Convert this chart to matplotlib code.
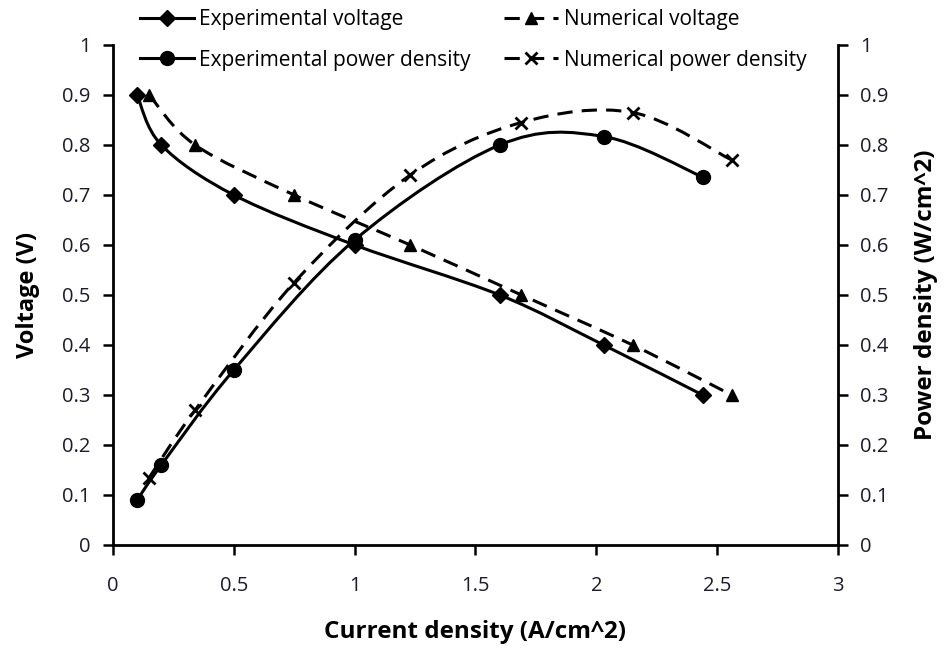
import numpy as np
import matplotlib
matplotlib.use('Agg')
import matplotlib.pyplot as plt
from matplotlib.path import Path
from matplotlib.patches import PathPatch
from matplotlib.lines import Line2D

plt.rcParams['font.family'] = ['Open Sans', 'DejaVu Sans']

# data
exp_current = [0.1, 0.2, 0.5, 1.0, 1.6, 2.03, 2.44]
exp_voltage = [0.9, 0.8, 0.7, 0.6, 0.5, 0.4, 0.3]
exp_power = [0.09, 0.16, 0.35, 0.61, 0.80, 0.817, 0.736]

num_current = [0.15, 0.34, 0.75, 1.23, 1.69, 2.15, 2.56]
num_voltage = [0.9, 0.8, 0.7, 0.6, 0.5, 0.4, 0.3]
num_power = [0.135, 0.27, 0.525, 0.74, 0.845, 0.865, 0.77]

x_ticks = [0, 0.5, 1, 1.5, 2, 2.5, 3]
x_tick_labels = ['0', '0.5', '1', '1.5', '2', '2.5', '3']
y_ticks = [0, 0.1, 0.2, 0.3, 0.4, 0.5, 0.6, 0.7, 0.8, 0.9, 1]
y_tick_labels = ['0', '0.1', '0.2', '0.3', '0.4', '0.5', '0.6', '0.7', '0.8', '0.9', '1']


def smooth_path(xs, ys):
    # excel style smoothed line: bezier segments with catmull-rom control points
    p = np.column_stack([xs, ys]).astype(float)
    n = len(p)
    verts = [p[0]]
    codes = [Path.MOVETO]
    for i in range(n - 1):
        p0 = p[i - 1] if i > 0 else p[i]
        p3 = p[i + 2] if i + 2 < n else p[i + 1]
        c1 = p[i] + (p[i + 1] - p0) / 6.0
        c2 = p[i + 1] - (p3 - p[i]) / 6.0
        verts += [c1, c2, p[i + 1]]
        codes += [Path.CURVE4] * 3
    return Path(verts, codes)


def draw_series(ax, xs, ys, ls, marker, ms):
    ax.add_patch(PathPatch(smooth_path(xs, ys), fill=False, lw=2.2,
                           ls=ls, ec='black', capstyle='butt'))
    ax.plot(xs, ys, ls='none', marker=marker, ms=ms, color='black',
            mew=2 if marker == 'x' else 1)


dash = (0, (5, 3))
fig = plt.figure(figsize=(9.45, 6.49), dpi=100)
ax = fig.add_axes([113 / 945, 1 - 545 / 649, 725 / 945, 500 / 649])
ax2 = ax.twinx()

draw_series(ax, exp_current, exp_voltage, '-', 'D', 8.5)
draw_series(ax, num_current, num_voltage, dash, '^', 9)
draw_series(ax2, exp_current, exp_power, '-', 'o', 10)
draw_series(ax2, num_current, num_power, dash, 'x', 9)

ax.set_xlim(0, 3)
ax.set_ylim(0, 1)
ax2.set_ylim(0, 1)
ax.set_xticks(x_ticks)
ax.set_xticklabels(x_tick_labels)
ax.set_yticks(y_ticks)
ax.set_yticklabels(y_tick_labels)
ax2.set_yticks(y_ticks)
ax2.set_yticklabels(y_tick_labels)

for a in (ax, ax2):
    a.spines['top'].set_visible(False)
    for s in a.spines.values():
        s.set_linewidth(2)
    a.tick_params(length=7, width=1.8, labelsize=14.5, colors='black',
                  labelcolor='#1c1c28')
ax.tick_params(axis='x', pad=15)
ax.tick_params(axis='y', pad=9)
ax2.tick_params(axis='y', pad=9)
ax.spines['right'].set_visible(False)
ax2.spines['left'].set_visible(False)
ax2.spines['bottom'].set_visible(False)

ax.set_xlabel('Current density (A/cm^2)', fontsize=17.5, fontweight='bold', va='center')
ax.xaxis.set_label_coords(0.5, -0.174)
ax.set_ylabel('Voltage (V)', fontsize=17, fontweight='bold', va='center')
ax.yaxis.set_label_coords(-0.117, 0.5)
ax2.set_ylabel('Power density (W/cm^2)', fontsize=17.5, fontweight='bold', va='center',
               rotation=90)
ax2.yaxis.set_label_coords(1.122, 0.5)

handles = [
    Line2D([], [], color='black', lw=2.2, marker='D', ms=8.5),
    Line2D([], [], color='black', lw=2.2, marker='o', ms=10),
    Line2D([], [], color='black', lw=2.2, ls=dash, marker='^', ms=9),
    Line2D([], [], color='black', lw=2.2, ls=dash, marker='x', ms=9, mew=2),
]
labels = ['Experimental voltage', 'Experimental power density',
          'Numerical voltage', 'Numerical power density']
fig.legend(handles, labels, ncol=2, loc='upper left',
           bbox_to_anchor=(140 / 945, 1 - 9 / 649), frameon=False,
           fontsize=15, handlelength=2.6, handletextpad=0.25,
           columnspacing=1.6, labelspacing=0.95, borderpad=0, borderaxespad=0)

fig.savefig('out.png', dpi=100)
